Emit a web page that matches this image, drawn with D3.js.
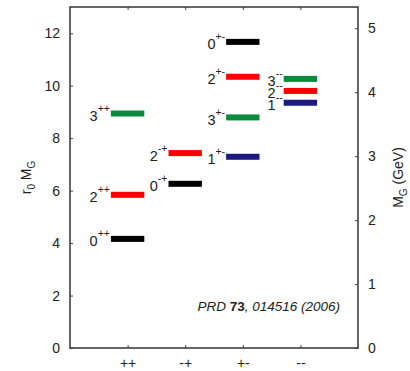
<!DOCTYPE html>
<meta charset="utf-8">
<script src="https://d3js.org/d3.v7.min.js"></script>
<style>
  body { margin: 0; background: #fff; }
  text { font-family: "Liberation Sans", Arial, sans-serif; fill: #222; }
</style>
<div id="my_dataviz"></div>
<script>

// PC channels along the x axis
var channels = ["++", "-+", "+-", "--"];

// glueball states: spin, channel, r0*M_G
var spins    = [0, 2, 3, 0, 2, 1, 3, 2, 0, 1, 2, 3];
var states   = ["++", "++", "++", "-+", "-+", "+-", "+-", "+-", "+-", "--", "--", "--"];
var masses   = [4.16, 5.84, 8.94, 6.26, 7.43, 7.29, 8.79, 10.34, 11.67, 9.35, 9.80, 10.26];

var leftTicks  = [0, 2, 4, 6, 8, 10, 12];
var rightTicks = [0, 1, 2, 3, 4, 5];
var r0 = 2.438; // r0 in GeV^-1, links the two axes

var spinColor = { 0: "#000000", 1: "#1c1a7e", 2: "#ff0000", 3: "#0b8a3b" };

var width = 410, height = 371;
// plot frame edges (note: "top" is reserved on window)
var pL = 70, pR = 358, pT = 7, pB = 348;

var svg = d3.select("#my_dataviz")
  .append("svg")
    .attr("width", width)
    .attr("height", height);

var x = d3.scaleLinear().domain([0, 5]).range([pL, pR]);
var y = d3.scaleLinear().domain([0, 13]).range([pB, pT]);
var y2 = d3.scaleLinear().domain([0, 13 / r0]).range([pB, pT]);

// left axis
svg.append("g")
  .attr("transform", "translate(" + pL + ",0)")
  .call(d3.axisLeft(y).tickValues(leftTicks).tickFormat(d3.format("d"))
    .tickSizeInner(-3).tickSizeOuter(0).tickPadding(10));

// right axis
svg.append("g")
  .attr("transform", "translate(" + pR + ",0)")
  .call(d3.axisRight(y2).tickValues(rightTicks).tickFormat(d3.format("d"))
    .tickSizeInner(-3).tickSizeOuter(0).tickPadding(10));

// bottom axis
svg.append("g")
  .attr("transform", "translate(0," + pB + ")")
  .call(d3.axisBottom(x).tickValues([1, 2, 3, 4]).tickFormat(function(d) { return channels[d - 1]; })
    .tickSizeInner(-3).tickSizeOuter(0).tickPadding(10));

// top ticks
svg.append("g")
  .attr("transform", "translate(0," + pT + ")")
  .call(d3.axisTop(x).tickValues([1, 2, 3, 4]).tickFormat("").tickSizeInner(-3).tickSizeOuter(0));

svg.selectAll(".domain").remove();
svg.selectAll(".tick line").attr("stroke", "#444").attr("stroke-width", 1);
svg.selectAll(".tick text").style("font-size", "14px").attr("fill", "#222");

// frame
svg.append("rect")
  .attr("x", pL).attr("y", pT)
  .attr("width", pR - pL).attr("height", pB - pT)
  .attr("fill", "none").attr("stroke", "#333").attr("stroke-width", 1.5);

// levels
var hw = 0.29;
var data = masses.map(function(m, i) { return { m: m, j: spins[i], pc: states[i] }; });

svg.append("g").selectAll("rect")
  .data(data)
  .enter()
  .append("rect")
    .attr("x", function(d) { return x(channels.indexOf(d.pc) + 1 - hw); })
    .attr("y", function(d) { return y(d.m) - 3; })
    .attr("width", x(2 * hw) - x(0))
    .attr("height", 6)
    .attr("fill", function(d) { return spinColor[d.j]; });

var labels = svg.append("g").selectAll("text")
  .data(data)
  .enter()
  .append("text")
    .attr("x", function(d) { return x(channels.indexOf(d.pc) + 1 - hw) - 1; })
    .attr("y", function(d) { return y(d.m) + 7.5; })
    .style("text-anchor", "end")
    .style("font-size", "14.5px");
labels.append("tspan").text(function(d) { return d.j; });
labels.append("tspan")
  .attr("dy", -9)
  .style("font-size", "10.5px")
  .text(function(d) { return d.pc; });

// axis titles
var yl = svg.append("text")
  .attr("transform", "translate(31," + (pT + pB) / 2 + ") rotate(-90)")
  .style("text-anchor", "middle")
  .style("font-size", "14px");
yl.append("tspan").text("r");
yl.append("tspan").attr("dy", 4).style("font-size", "10px").text("0");
yl.append("tspan").attr("dy", -4).text(" M");
yl.append("tspan").attr("dy", 4).style("font-size", "10px").text("G");

var yr = svg.append("text")
  .attr("transform", "translate(403," + (pT + pB) / 2 + ") rotate(-90)")
  .style("text-anchor", "middle")
  .style("font-size", "14px");
yr.append("tspan").text("M");
yr.append("tspan").attr("dy", 4).style("font-size", "10px").text("G");
yr.append("tspan").attr("dy", -4).text(" (GeV)");

// reference
var ref = svg.append("text")
  .attr("x", 340)
  .attr("y", 311)
  .style("text-anchor", "end")
  .style("font-size", "13.5px")
  .style("font-style", "italic");
ref.append("tspan").text("PRD ");
ref.append("tspan").style("font-weight", "bold").style("font-style", "normal").text("73");
ref.append("tspan").text(", 014516 (2006)");

</script>
